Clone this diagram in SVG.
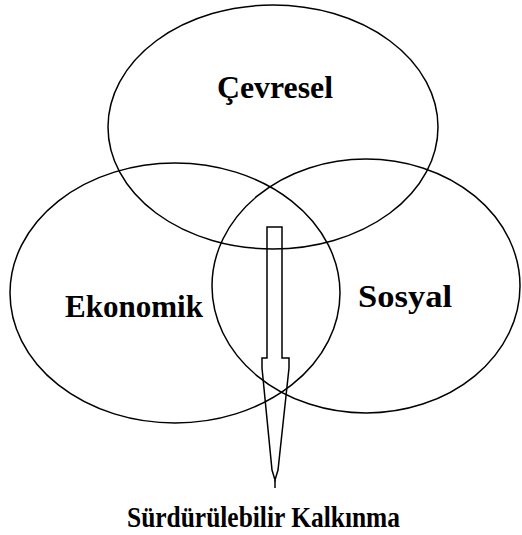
<svg xmlns="http://www.w3.org/2000/svg" width="522" height="535" viewBox="0 0 522 535">
<style>
.c{fill:none;stroke:#000;stroke-width:1.5}
.t{font-family:"Liberation Serif","Times New Roman",serif;font-weight:bold;font-size:31px;fill:#000}
</style>
<rect width="522" height="535" fill="#fff"/>
<g id="cevresel"><ellipse class="c" cx="273" cy="127" rx="165" ry="122"/><text class="t" x="217" y="98" textLength="116" lengthAdjust="spacingAndGlyphs">Çevresel</text></g>
<g id="ekonomik"><ellipse class="c" cx="175" cy="293" rx="165" ry="130"/><text class="t" x="65" y="317" textLength="138" lengthAdjust="spacingAndGlyphs">Ekonomik</text></g>
<g id="sosyal"><ellipse class="c" cx="366" cy="286" rx="154" ry="127"/><text class="t" x="358" y="307" textLength="94" lengthAdjust="spacingAndGlyphs">Sosyal</text></g>
<g id="connectors"><polygon class="c" points="267,227 282,227 282,358 289,358 289,368 278,470 275,480 272,470 262,368 262,358 267,358"/><line class="c" x1="275" y1="480" x2="275" y2="488"/></g>
<g id="kalkinma"><text class="t" style="font-size:30px" x="127" y="527" textLength="273" lengthAdjust="spacingAndGlyphs">Sürdürülebilir Kalkınma</text></g>
</svg>
